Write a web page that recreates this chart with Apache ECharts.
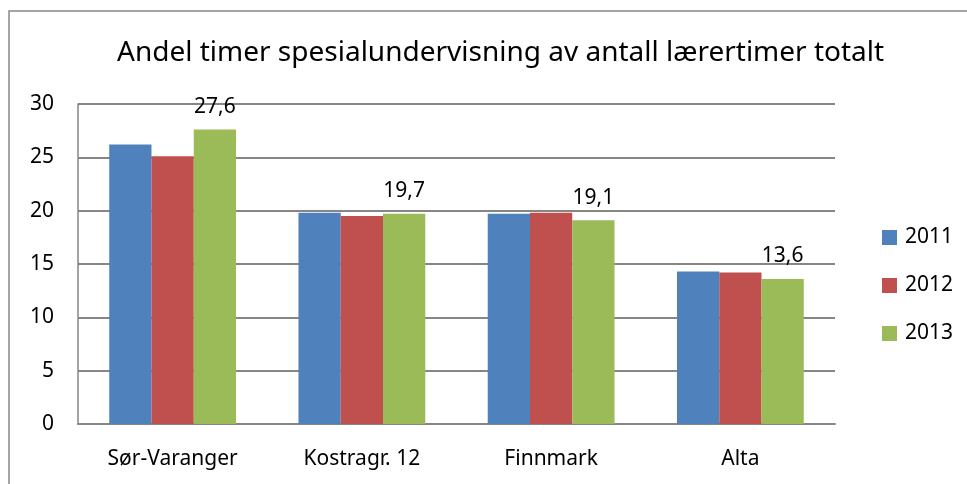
<!DOCTYPE html>
<html style="height: 100%">
<head>
<meta charset="utf-8">
<script src="https://cdn.jsdelivr.net/npm/echarts@6/dist/echarts.min.js"></script>
</head>
<body style="height: 100%; margin: 0; background: #fff">
<div id="container" style="width: 967px; height: 484px"></div>
<script type="text/javascript">
var categories = ['Sør-Varanger', 'Kostragr. 12', 'Finnmark', 'Alta'];
var years = ['2011', '2012', '2013'];
var v2011 = [26.2, 19.8, 19.7, 14.3];
var v2012 = [25.1, 19.5, 19.8, 14.2];
var v2013 = [27.6, 19.7, 19.1, 13.6];
var colors = ['#4F81BD', '#C0504D', '#9BBB59'];

var font = 'Noto Sans';
var chart = echarts.init(document.getElementById('container'));

function bar(name, data, color, showLabel) {
    return {
        name: name,
        type: 'bar',
        data: data,
        barGap: '0%',
        barCategoryGap: '33%',
        itemStyle: { color: color },
        label: {
            show: showLabel,
            position: 'top',
            distance: 12,
            color: '#000',
            fontFamily: font,
            fontSize: 21,
            formatter: function (p) { return String(p.value).replace('.', ','); }
        }
    };
}

var option = {
    animation: false,
    backgroundColor: '#fff',
    color: colors,
    title: {
        text: 'Andel timer spesialundervisning av antall lærertimer totalt',
        left: 112,
        top: 34,
        textStyle: { fontFamily: font, fontWeight: 'normal', fontSize: 28, color: '#000' }
    },
    graphic: [{
        type: 'rect',
        shape: { x: 9, y: 11, width: 1000, height: 500 },
        style: { fill: null, stroke: '#888', lineWidth: 1.5 },
        silent: true
    }],
    legend: {
        orient: 'vertical',
        left: 877,
        top: 222,
        itemWidth: 15,
        itemHeight: 15,
        itemGap: 27,
        icon: 'rect',
        textStyle: { fontFamily: font, fontSize: 21, color: '#000', padding: [0, 0, 0, 3] },
        data: years
    },
    grid: { left: 78, right: 132, top: 104, bottom: 60, containLabel: false },
    xAxis: {
        type: 'category',
        data: categories,
        axisLine: { lineStyle: { color: '#868686', width: 2 } },
        axisTick: { show: false },
        axisLabel: { color: '#000', fontFamily: font, fontSize: 21, margin: 25 }
    },
    yAxis: {
        type: 'value',
        min: 0,
        max: 30,
        interval: 5,
        axisLine: { show: true, lineStyle: { color: '#868686', width: 1.5 } },
        axisTick: { show: false },
        splitLine: { lineStyle: { color: '#868686', width: 2 } },
        axisLabel: { color: '#000', fontFamily: font, fontSize: 21, margin: 24 }
    },
    series: [
        bar(years[0], v2011, colors[0], false),
        bar(years[1], v2012, colors[1], false),
        bar(years[2], v2013, colors[2], true)
    ]
};
chart.setOption(option);
</script>
</body>
</html>
